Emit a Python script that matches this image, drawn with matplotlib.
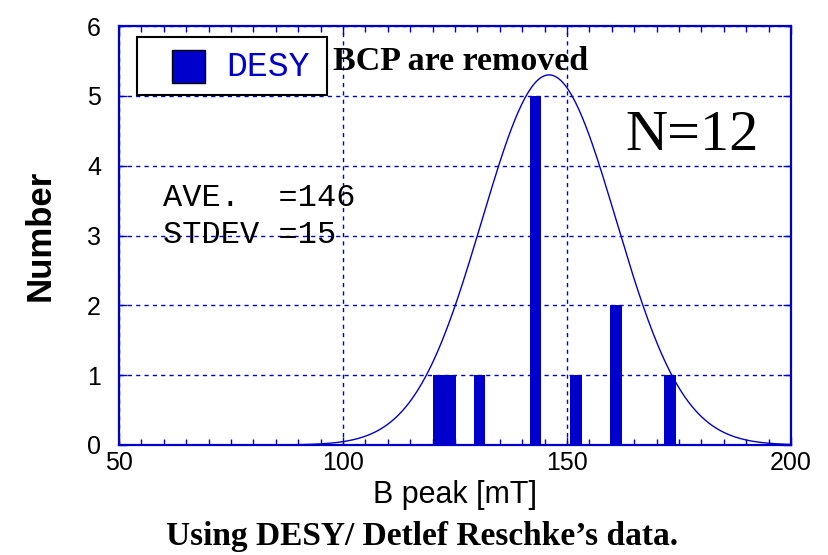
import numpy as np
import matplotlib.pyplot as plt
from matplotlib.patches import Rectangle
from matplotlib.ticker import MultipleLocator

# measured B peak values (mT), one entry per cavity
b_peak = [121.5, 124.0, 130.5, 143.0, 152.0, 161.0, 173.0]
counts = [1, 1, 1, 5, 1, 2, 1]

# fit parameters shown on the chart
ave = 146
stdev = 15
fit_peak = 5.3

blue = '#0000CC'
W, H = 829, 555

fig = plt.figure(figsize=(8.29, 5.55), dpi=100)
ax = fig.add_axes([119 / W, 1 - 445 / H, 672 / W, 419 / H])

ax.bar(b_peak, counts, width=2.6, color=blue, zorder=3)

x = np.linspace(50, 200, 400)
ax.plot(x, fit_peak * np.exp(-(x - ave) ** 2 / (2 * stdev ** 2)), color=blue, lw=1.0, zorder=4)

ax.set_xlim(50, 200)
ax.set_ylim(0, 6)
ax.xaxis.set_major_locator(MultipleLocator(50))
ax.xaxis.set_minor_locator(MultipleLocator(5))
ax.yaxis.set_major_locator(MultipleLocator(1))

ax.grid(True, which='major', color=blue, ls=(0, (3, 3)), lw=1.0, zorder=1)
for s in ax.spines.values():
    s.set_color(blue)
    s.set_linewidth(1.6)
ax.tick_params(which='both', direction='in', colors=blue, top=True, right=True,
               labelcolor='black', labelsize=18)
ax.tick_params(which='major', length=6, width=1)
ax.tick_params(which='minor', length=4, width=1)
ax.tick_params(axis='y', pad=13)
ax.tick_params(axis='x', pad=4)
for lab in ax.get_xticklabels() + ax.get_yticklabels():
    lab.set_family('Liberation Sans')

ax.set_xlabel('B peak [mT]', fontsize=22, family='Liberation Sans', labelpad=4)
ax.set_ylabel('Number', fontsize=25, family='Liberation Sans', fontweight='bold', labelpad=22)

# legend box drawn by hand to match the original spacing
fig.patches.append(Rectangle((137 / W, 1 - 95 / H), 190 / W, 58 / H, transform=fig.transFigure,
                             facecolor='white', edgecolor='black', lw=1.5, zorder=5))
fig.patches.append(Rectangle((172 / W, 1 - 83 / H), 33 / W, 33 / H, transform=fig.transFigure,
                             facecolor=blue, edgecolor='black', lw=1, zorder=6))
fig.text(226 / W, 1 - 67 / H, 'DESY', fontsize=25, family='Liberation Mono', color=blue,
         va='center', ha='left', zorder=6)

fig.text(333 / W, 1 - 62 / H, 'BCP are removed', fontsize=24.5, family='Liberation Serif',
         fontweight='bold', va='center', ha='left')
fig.text(625 / W, 1 - 136 / H, 'N=12', fontsize=42, family='Liberation Serif',
         va='center', ha='left')
fig.text(163 / W, 1 - 198 / H, 'AVE.  =146', fontsize=23, family='Liberation Mono',
         va='center', ha='left')
fig.text(163 / W, 1 - 235 / H, 'STDEV =15', fontsize=23, family='Liberation Mono',
         va='center', ha='left')
fig.text(422 / W, 3 / H, 'Using DESY/ Detlef Reschke\u2019s data.', fontsize=24,
         family='Liberation Serif', fontweight='bold', va='bottom', ha='center')

fig.savefig('out.png', dpi=100)
